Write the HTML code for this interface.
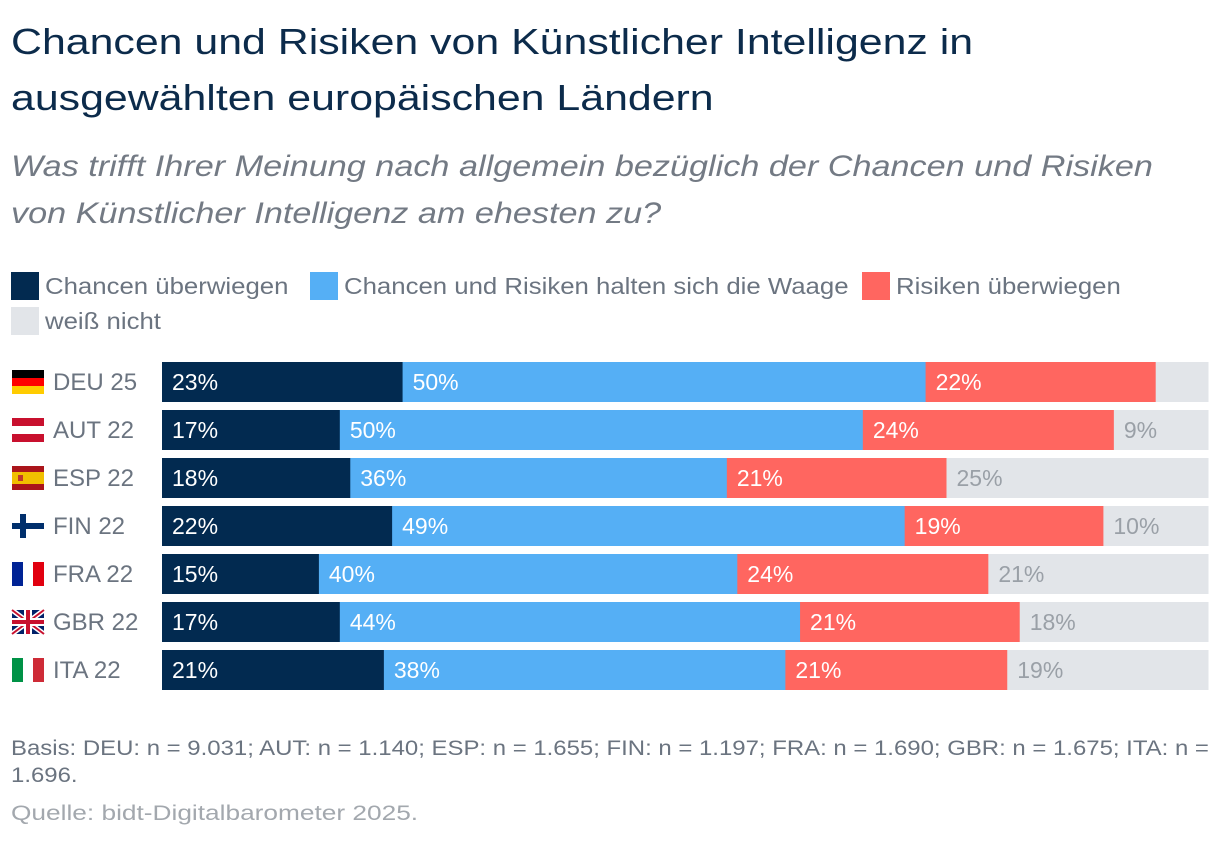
<!DOCTYPE html>
<html><head><meta charset="utf-8"><style>
body{margin:0;width:1220px;height:842px;background:#fff;font-family:"Liberation Sans",sans-serif;position:relative;overflow:hidden}
.t{position:absolute;left:11px;top:14px;font-size:36px;line-height:56px;color:#0c2b4b;margin:0;font-weight:normal;transform:scaleX(1.19);transform-origin:0 0;white-space:nowrap}
.s{position:absolute;left:11px;top:143px;font-size:30px;line-height:47px;color:#737a84;font-style:italic;transform:scaleX(1.14);transform-origin:0 0;white-space:nowrap}
.leg{position:absolute;font-size:23px;color:#6b7480;display:flex;align-items:center;white-space:nowrap}
.leg span{display:inline-block;transform:scaleX(1.12);transform-origin:0 50%}
.sw{width:28px;height:28px;margin-right:6px}
.f{position:absolute;font-size:21px;color:#6b7480;left:11px;transform-origin:0 0;white-space:nowrap}
</style></head><body>
<h1 class="t">Chancen und Risiken von Künstlicher Intelligenz in<br>ausgewählten europäischen Ländern</h1>
<div class="s">Was trifft Ihrer Meinung nach allgemein bezüglich der Chancen und Risiken<br>von Künstlicher Intelligenz am ehesten zu?</div>
<div class="leg" style="left:11px;top:272px"><div class="sw" style="background:#022a50"></div><span>Chancen überwiegen</span></div>
<div class="leg" style="left:310px;top:272px"><div class="sw" style="background:#55aff5"></div><span>Chancen und Risiken halten sich die Waage</span></div>
<div class="leg" style="left:862px;top:272px"><div class="sw" style="background:#ff6660"></div><span>Risiken überwiegen</span></div>
<div class="leg" style="left:11px;top:307px"><div class="sw" style="background:#e2e5e9"></div><span>weiß nicht</span></div>
<svg id="c" width="1220" height="842" style="position:absolute;left:0;top:0"></svg>
<div class="f" style="top:735px;line-height:27px;transform:scaleX(1.14)">Basis: DEU: n = 9.031; AUT: n = 1.140; ESP: n = 1.655; FIN: n = 1.197; FRA: n = 1.690; GBR: n = 1.675; ITA: n =<br>1.696.</div>
<div class="f" style="top:802px;color:#a3a8ae;transform:scaleX(1.25)">Quelle: bidt-Digitalbarometer 2025.</div>
<script>
const categories=["DEU 25","AUT 22","ESP 22","FIN 22","FRA 22","GBR 22","ITA 22"];
const chancen=[23,17,18,22,15,17,21];
const waage=[50,50,36,49,40,44,38];
const risiken=[22,24,21,19,24,21,21];
const weissNicht=[5,9,25,10,21,18,19];
const showWN=[false,true,true,true,true,true,true];
const NS="http://www.w3.org/2000/svg";
const svg=document.getElementById('c');
const X0=162,W=1046,Y0=362,STEP=48,BH=40;
const cols=["#022a50","#55aff5","#ff6660","#e2e5e9"];
const tcols=["#fff","#fff","#fff","#9aa0a7"];
const names=["chancen","waage","risiken","weiss-nicht"];
function el(t,a){const e=document.createElementNS(NS,t);for(const k in a)e.setAttribute(k,a[k]);return e;}
function flag(i,y){
  const g=el('g',{});
  
  
  const x=12,w=32,h=24;const r=(a,b,c,d,f)=>g.appendChild(el('rect',{x:a,y:b,width:c,height:d,fill:f}));
  const c=categories[i].slice(0,3);
  if(c=="DEU"){r(x,y,w,8,"#000");r(x,y+8,w,8,"#f00");r(x,y+16,w,8,"#fc0");}
  if(c=="AUT"){r(x,y,w,h,"#c8102e");r(x,y+8,w,8,"#fff");}
  if(c=="ESP"){r(x,y,w,h,"#aa151b");r(x,y+6,w,12,"#f1bf00");r(x+6,y+9,5,6,"#c0392b");}
  if(c=="FIN"){r(x,y,w,h,"#fff");r(x,y+9,w,6,"#002f6c");r(x+8,y,6,h,"#002f6c");}
  if(c=="FRA"){r(x,y,11,h,"#002395");r(x+11,y,10,h,"#fff");r(x+21,y,11,h,"#e1000f");}
  if(c=="ITA"){r(x,y,11,h,"#009246");r(x+11,y,10,h,"#fff");r(x+21,y,11,h,"#ce2b37");}
  if(c=="GBR"){r(x,y,w,h,"#012169");
    g.appendChild(el('path',{d:`M${x} ${y}L${x+w} ${y+h}M${x+w} ${y}L${x} ${y+h}`,stroke:"#fff","stroke-width":5}));
    g.appendChild(el('path',{d:`M${x} ${y}L${x+w} ${y+h}M${x+w} ${y}L${x} ${y+h}`,stroke:"#c8102e","stroke-width":2}));
    r(x,y+8,w,8,"#fff");r(x+12,y,8,h,"#fff");r(x,y+10,w,4,"#c8102e");r(x+14,y,4,h,"#c8102e");}
  svg.appendChild(g);
}
categories.forEach((cat,i)=>{
  const y=Y0+i*STEP;
  flag(i,y+8);
  const lab=el('text',{x:53,y:y+28,"font-size":24,fill:"#6b7480","font-family":"Liberation Sans"});
  lab.textContent=cat;
  
  
  svg.appendChild(lab);
  const vals=[chancen[i],waage[i],risiken[i],weissNicht[i]];
  const tot=vals.reduce((a,b)=>a+b,0);
  let x=X0;
  vals.forEach((v,j)=>{
    const w=v/tot*W;
    const rc=el('rect',{x:x,y:y,width:w+0.5,height:BH,fill:cols[j]});
    
    
    svg.appendChild(rc);
    if(j<3||showWN[i]){
      const t=el('text',{x:x+10,y:y+28,"font-size":23,fill:tcols[j],"font-family":"Liberation Sans"});
      t.textContent=v+"%";
      
      
      svg.appendChild(t);
    }
    x+=w;
  });
});
</script>
</body></html>
